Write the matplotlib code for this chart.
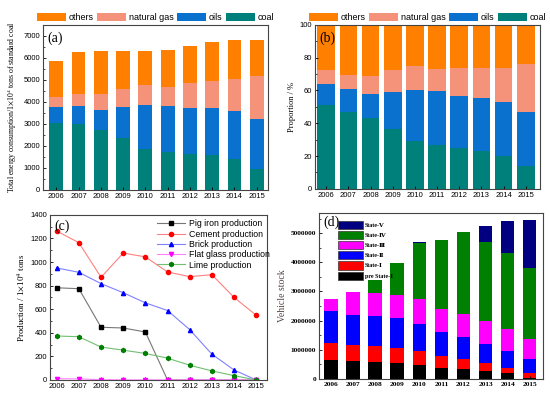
import matplotlib
matplotlib.use("Agg")
import matplotlib.pyplot as plt
import numpy as np
from matplotlib.ticker import MultipleLocator, FuncFormatter

plt.rcParams['mathtext.fontset'] = 'stix'
plt.rcParams['xtick.direction'] = 'in'
plt.rcParams['ytick.direction'] = 'in'

years = [2006, 2007, 2008, 2009, 2010, 2011, 2012, 2013, 2014, 2015]

# (a) total energy consumption, 1e4 tons of standard coal
coal = [3030, 2985, 2730, 2350, 1860, 1710, 1650, 1580, 1390, 940]
oils = [760, 835, 910, 1410, 1990, 2090, 2080, 2150, 2220, 2290]
gas = [450, 540, 720, 820, 910, 870, 1120, 1210, 1420, 1950]
others = [1640, 1910, 1960, 1740, 1570, 1710, 1700, 1760, 1770, 1620]

# (b) proportion, %
coal_pct = [51.4, 46.9, 42.9, 36.3, 29.2, 26.5, 24.9, 22.9, 19.8, 13.9]
oils_pct = [12.3, 13.7, 14.7, 22.9, 31.0, 32.9, 31.8, 32.4, 32.9, 33.0]
gas_pct = [8.5, 8.8, 11.4, 13.0, 14.5, 13.7, 17.0, 18.2, 20.8, 29.0]
others_pct = [27.8, 30.6, 31.0, 27.8, 25.3, 26.9, 26.3, 26.5, 26.5, 24.1]

# (c) production, 1e4 tons
pig_iron = [782, 774, 447, 441, 407, 0, 0, 0, 0, 0]
cement = [1263, 1164, 871, 1076, 1044, 916, 876, 893, 700, 549]
brick = [950, 913, 817, 740, 654, 589, 427, 219, 85, 0]
flat_glass = [11, 9, 3, 1, 1, 1, 1, 1, 1, 0]
lime = [373, 367, 279, 253, 225, 185, 125, 77, 37, 0]

# (d) vehicle stock by emission standard
pre_s1 = [630000, 600000, 570000, 540000, 490000, 370000, 320000, 260000, 190000, 30000]
s1 = [610000, 560000, 570000, 530000, 470000, 410000, 360000, 280000, 180000, 160000]
s2 = [1080000, 1030000, 1030000, 1010000, 940000, 830000, 740000, 660000, 600000, 480000]
s3 = [420000, 780000, 770000, 790000, 830000, 800000, 800000, 780000, 750000, 710000]
s4 = [0, 0, 470000, 1110000, 1940000, 2360000, 2830000, 2720000, 2610000, 2430000]
s5 = [0, 0, 0, 0, 20000, 0, 0, 560000, 1080000, 1640000]

energy_colors = {'others': '#FF8000', 'natural gas': '#F4937A',
                 'oils': '#0A72CE', 'coal': '#00807A'}
state_colors = ['black', '#FF0000', '#0000FF', '#FF00FF', '#008000', '#000080']

sans = 'Liberation Sans'
serif = ['Liberation Serif', 'DejaVu Serif']

fig = plt.figure(figsize=(5.5, 3.95), dpi=100)


def stacked(ax, series, names, width=0.6):
    bottom = np.zeros(len(years))
    handles = {}
    for vals, name in zip(series, names):
        b = ax.bar(years, vals, width=width, bottom=bottom,
                   color=energy_colors[name], edgecolor='none')
        handles[name] = b
        bottom = bottom + np.array(vals)
    return handles


def style(ax, minor_y):
    ax.set_xticks(years)
    ax.yaxis.set_minor_locator(MultipleLocator(minor_y))
    ax.tick_params(labelsize=5.5, length=2.5, width=0.6, pad=2)
    ax.tick_params(which='minor', length=1.5, width=0.5)
    for lab in ax.get_xticklabels() + ax.get_yticklabels():
        lab.set_fontfamily(sans)
    for s in ax.spines.values():
        s.set_linewidth(0.8)
        s.set_color('#444444')


# ---- (a)
ax1 = fig.add_axes([0.078, 0.519, 0.409, 0.418])
h = stacked(ax1, [coal, oils, gas, others], ['coal', 'oils', 'natural gas', 'others'],
            width=0.62)
ax1.set_xlim(2005.4, 2015.5)
ax1.set_ylim(0, 7500)
ax1.set_yticks(range(0, 7001, 1000))
style(ax1, 500)
ax1.set_ylabel(r'Total energy consumption/1$\times$10$^4$ tons of standard coal',
               fontsize=5.6, family=serif, labelpad=3)
ax1.text(0.02, 0.96, '(a)', transform=ax1.transAxes, fontsize=10, family=serif,
         va='top', ha='left')
names = ['others', 'natural gas', 'oils', 'coal']
ax1.legend([h[n] for n in names], names, ncol=4, loc='lower center',
           bbox_to_anchor=(0.5, 0.99), frameon=False,
           prop={'family': sans, 'size': 6.5}, handlelength=3.2, handleheight=1.1,
           columnspacing=0.4, handletextpad=0.3, borderaxespad=0.1)

# ---- (b)
ax2 = fig.add_axes([0.573, 0.522, 0.409, 0.415])
h = stacked(ax2, [coal_pct, oils_pct, gas_pct, others_pct],
            ['coal', 'oils', 'natural gas', 'others'], width=0.8)
ax2.set_xlim(2005.5, 2015.65)
ax2.set_ylim(0, 100)
ax2.set_yticks(range(0, 101, 20))
style(ax2, 10)
ax2.set_ylabel('Proportion / %', fontsize=6, family=serif, labelpad=3)
ax2.text(0.02, 0.96, '(b)', transform=ax2.transAxes, fontsize=10, family=serif,
         va='top', ha='left')
ax2.legend([h[n] for n in names], names, ncol=4, loc='lower center',
           bbox_to_anchor=(0.5, 0.99), frameon=False,
           prop={'family': sans, 'size': 6.5}, handlelength=3.2, handleheight=1.1,
           columnspacing=0.4, handletextpad=0.3, borderaxespad=0.1)

# ---- (c)
ax3 = fig.add_axes([0.091, 0.038, 0.395, 0.418])
line_specs = [
    (pig_iron, 'Pig iron production', 'black', '#777777', 's'),
    (cement, 'Cement production', '#FF0000', '#FF8080', 'o'),
    (brick, 'Brick production', '#0000FF', '#8080FF', '^'),
    (flat_glass, 'Flat glass production', '#FF00FF', '#FF80FF', 'v'),
    (lime, 'Lime production', '#008000', '#70C070', 'h'),
]
for vals, label, mc, lc, mk in line_specs:
    ax3.plot(years, vals, color=lc, lw=0.8, marker=mk, ms=3,
             mfc=mc, mec=mc, label=label)
ax3.set_xlim(2005.7, 2015.5)
ax3.set_ylim(0, 1400)
ax3.set_yticks(range(0, 1401, 200))
style(ax3, 100)
ax3.set_ylabel(r'Production / 1$\times$10$^4$ tons', fontsize=6.5, family=serif,
               labelpad=3)
ax3.text(0.02, 0.97, '(c)', transform=ax3.transAxes, fontsize=10, family=serif,
         va='top', ha='left')
ax3.legend(loc='upper right', frameon=False, prop={'family': sans, 'size': 6.3},
           handlelength=3.2, labelspacing=0.15, borderaxespad=0.1,
           handletextpad=0.4, bbox_to_anchor=(1.03, 1.0))

# ---- (d)
ax4 = fig.add_axes([0.58, 0.041, 0.407, 0.42])
bottom = np.zeros(len(years))
state_names = ['pre State-Ⅰ', 'State-Ⅰ', 'State-Ⅱ', 'State-Ⅲ', 'State-Ⅳ', 'State-Ⅴ']
bars = []
for vals, c, nm in zip([pre_s1, s1, s2, s3, s4, s5], state_colors, state_names):
    b = ax4.bar(years, vals, width=0.62, bottom=bottom, color=c, edgecolor='none',
                label=nm)
    bars.append(b)
    bottom = bottom + np.array(vals)
ax4.set_xlim(2005.45, 2015.6)
ax4.set_ylim(0, 5700000)
ax4.set_yticks(range(0, 5000001, 1000000))
ax4.yaxis.set_major_formatter(FuncFormatter(lambda v, p: '%d' % v))
ax4.set_xticks(years)
ax4.yaxis.set_minor_locator(MultipleLocator(500000))
ax4.tick_params(labelsize=5.3, length=2.5, width=0.6, pad=2)
ax4.tick_params(which='minor', length=1.5, width=0.5)
for lab in ax4.get_xticklabels() + ax4.get_yticklabels():
    lab.set_fontfamily(serif)
    lab.set_fontweight('bold')
for s in ax4.spines.values():
    s.set_linewidth(0.8)
    s.set_color('#444444')
ax4.set_ylabel('Vehicle stock', fontsize=7, family=serif, color='#554444', labelpad=3)
ax4.text(0.02, 0.985, '(d)', transform=ax4.transAxes, fontsize=10, family=serif,
         va='top', ha='left')
leg = ax4.legend(bars[::-1], state_names[::-1], loc='upper left',
                 bbox_to_anchor=(0.07, 0.97), frameon=False,
                 prop={'family': serif, 'size': 4.3, 'weight': 'bold'},
                 handlelength=4.2, handleheight=1.7, labelspacing=0.35,
                 handletextpad=0.3, borderaxespad=0.1)
for p in leg.get_patches():
    p.set_edgecolor('#333333')
    p.set_linewidth(0.5)

fig.savefig('out.png', dpi=100)
